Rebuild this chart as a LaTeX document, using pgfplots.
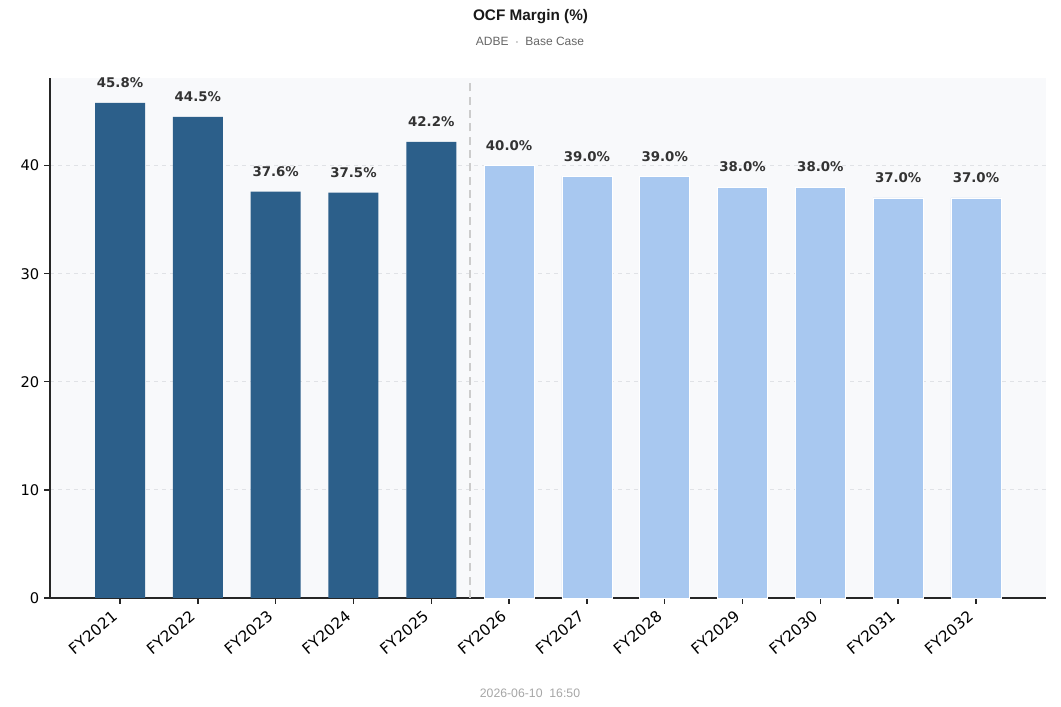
\documentclass[border=0pt]{standalone}
\usepackage{pgfplots}
\pgfplotsset{compat=1.18}
\usepackage{fontspec}
\setmainfont{DejaVu Sans}
\newfontfamily\arial{Liberation Sans}
\definecolor{darkbar}{HTML}{2C5F8A}
\definecolor{lightbar}{HTML}{A8C8F0}
\definecolor{bgc}{HTML}{F8F9FB}
\definecolor{lbl}{HTML}{333333}
\definecolor{gridc}{HTML}{E0E2E6}
\newcommand\rl[1]{\rotatebox{40}{#1}}
\begin{document}
\begin{tikzpicture}[x=0.75pt,y=0.75pt]
\useasboundingbox (0,0) rectangle (1061,707);
\node[font=\arial\bfseries\fontsize{11.5}{13}\selectfont, text=black!90] at (530.5,690) {OCF Margin (\%)};
\node[font=\arial\fontsize{9}{10}\selectfont, text=black!60] at (530,666) {ADBE \ $\cdot$ \ Base Case};
\node[font=\arial\fontsize{9.2}{10}\selectfont, text=black!35] at (530,14) {2026-06-10\ \ 16:50};
\begin{axis}[
  at={(37.5pt,81.75pt)}, anchor=south west,
  scale only axis, width=747pt, height=390pt,
  xmin=-0.9, xmax=11.9, ymin=0, ymax=48.1,
  axis background/.style={fill=bgc},
  axis x line*=bottom, axis y line*=left,
  axis line style={draw=black!85, line width=1pt},
  x axis line style={-}, y axis line style={-},
  xtick={0,...,11},
  xticklabels={\rl{FY2021},\rl{FY2022},\rl{FY2023},\rl{FY2024},\rl{FY2025},\rl{FY2026},\rl{FY2027},\rl{FY2028},\rl{FY2029},\rl{FY2030},\rl{FY2031},\rl{FY2032}},
  x tick label style={anchor=north east, font=\fontsize{11.5}{13}\selectfont, inner sep=0pt, yshift=-4pt, xshift=-1pt},
  ytick={0,10,20,30,40},
  y tick label style={font=\fontsize{11}{13}\selectfont},
  tick align=outside, tick style={draw=black!85, line width=1pt},
  major tick length=4.5pt,
  ymajorgrids, grid style={dashed, gridc, line width=0.8pt},
  /pgf/number format/assume math mode=true,
  ybar, bar width=37.5pt, bar shift=0pt,
  nodes near coords={\pgfmathprintnumber[fixed,fixed zerofill,precision=1]{\pgfplotspointmeta}\%},
  nodes near coords style={font=\bfseries\fontsize{10}{11}\selectfont, text=lbl, anchor=south, inner sep=0pt, yshift=11pt},
  clip=false,
]
\addplot[fill=darkbar, draw=none] coordinates {(0,45.8) (1,44.5) (2,37.6) (3,37.5) (4,42.2)};
\addplot[fill=lightbar, draw=white, line width=0.5pt] coordinates {(5,40.0) (6,39.0) (7,39.0) (8,38.0) (9,38.0) (10,37.0) (11,37.0)};
\draw[black!20, line width=1.5pt, dash pattern=on 6pt off 4pt] (axis cs:4.5,0) -- (axis cs:4.5,48.1);
\end{axis}
\end{tikzpicture}
\end{document}
